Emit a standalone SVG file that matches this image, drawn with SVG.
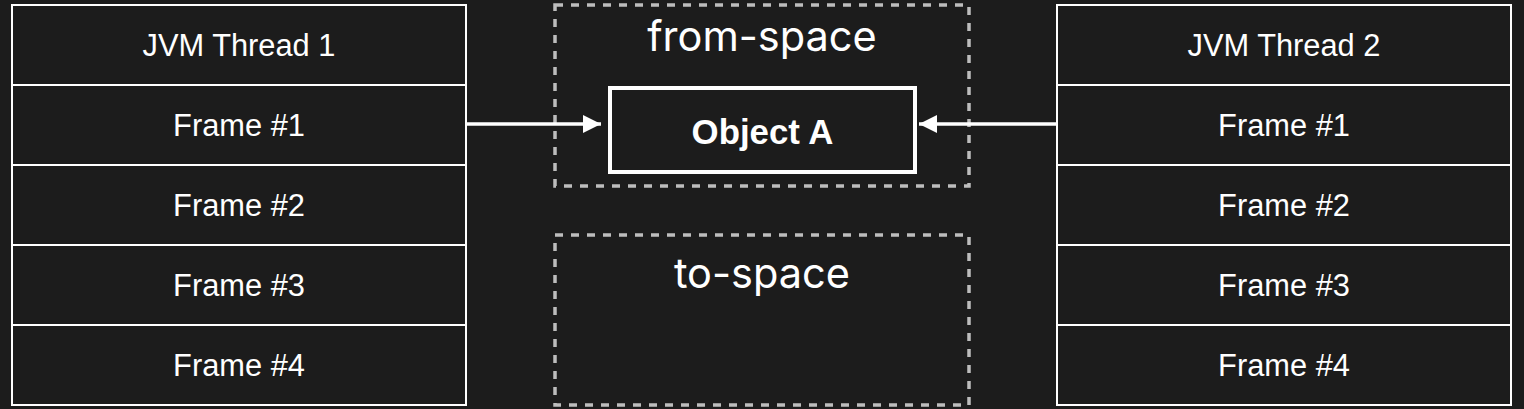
<svg xmlns="http://www.w3.org/2000/svg" width="1524" height="409" viewBox="0 0 1524 409">
  <style>
    .cell { fill: #1c1c1c; stroke: #ffffff; stroke-width: 2; }
    .lbl { fill: #ffffff; font-family: "Liberation Sans", Arial, sans-serif; font-size: 30.8px; text-anchor: middle; }
    .space { fill: none; stroke: #bdbdbd; stroke-width: 3.5; stroke-dasharray: 8 8; }
    .spacelbl { fill: #ffffff; font-family: Inter, "Noto Sans", sans-serif; font-size: 41.5px; text-anchor: middle; }
    .obj { fill: #1c1c1c; stroke: #ffffff; stroke-width: 4; }
    .objlbl { fill: #ffffff; font-family: "Liberation Sans", Arial, sans-serif; font-weight: bold; font-size: 34.8px; text-anchor: middle; }
    .conn { stroke: #ffffff; stroke-width: 3.5; fill: none; }
  </style>
  <defs>
    <marker id="arrow" viewBox="0 0 18 18" refX="18" refY="9" markerWidth="18" markerHeight="18" markerUnits="userSpaceOnUse" orient="auto">
      <path d="M0,0 L18,9 L0,18 Z" fill="#ffffff"/>
    </marker>
  </defs>
  <rect x="0" y="0" width="1524" height="409" fill="#1c1c1c"/>

  <g id="thread1">
    <g id="t1-header"><rect class="cell" x="12" y="5" width="454" height="80"/><text class="lbl" x="239" y="56">JVM Thread 1</text></g>
    <g id="t1-frame1"><rect class="cell" x="12" y="85" width="454" height="80"/><text class="lbl" x="239" y="136">Frame #1</text></g>
    <g id="t1-frame2"><rect class="cell" x="12" y="165" width="454" height="80"/><text class="lbl" x="239" y="216">Frame #2</text></g>
    <g id="t1-frame3"><rect class="cell" x="12" y="245" width="454" height="80"/><text class="lbl" x="239" y="296">Frame #3</text></g>
    <g id="t1-frame4"><rect class="cell" x="12" y="325" width="454" height="80"/><text class="lbl" x="239" y="376">Frame #4</text></g>
  </g>

  <g id="thread2">
    <g id="t2-header"><rect class="cell" x="1057" y="5" width="454" height="80"/><text class="lbl" x="1284" y="56">JVM Thread 2</text></g>
    <g id="t2-frame1"><rect class="cell" x="1057" y="85" width="454" height="80"/><text class="lbl" x="1284" y="136">Frame #1</text></g>
    <g id="t2-frame2"><rect class="cell" x="1057" y="165" width="454" height="80"/><text class="lbl" x="1284" y="216">Frame #2</text></g>
    <g id="t2-frame3"><rect class="cell" x="1057" y="245" width="454" height="80"/><text class="lbl" x="1284" y="296">Frame #3</text></g>
    <g id="t2-frame4"><rect class="cell" x="1057" y="325" width="454" height="80"/><text class="lbl" x="1284" y="376">Frame #4</text></g>
  </g>

  <g id="from-space">
    <rect class="space" x="555" y="5" width="414" height="181"/>
    <text class="spacelbl" x="762" y="51">from-space</text>
  </g>

  <g id="to-space">
    <rect class="space" x="555" y="235" width="414" height="170"/>
    <text class="spacelbl" x="762" y="288">to-space</text>
  </g>

  <g id="object-a">
    <rect class="obj" x="610" y="88" width="305" height="84"/>
    <text class="objlbl" x="762.5" y="144">Object A</text>
  </g>

  <g id="connectors">
    <line class="conn" x1="466" y1="124" x2="601" y2="124" marker-end="url(#arrow)"/>
    <line class="conn" x1="1057" y1="124" x2="919" y2="124" marker-end="url(#arrow)"/>
  </g>
</svg>
